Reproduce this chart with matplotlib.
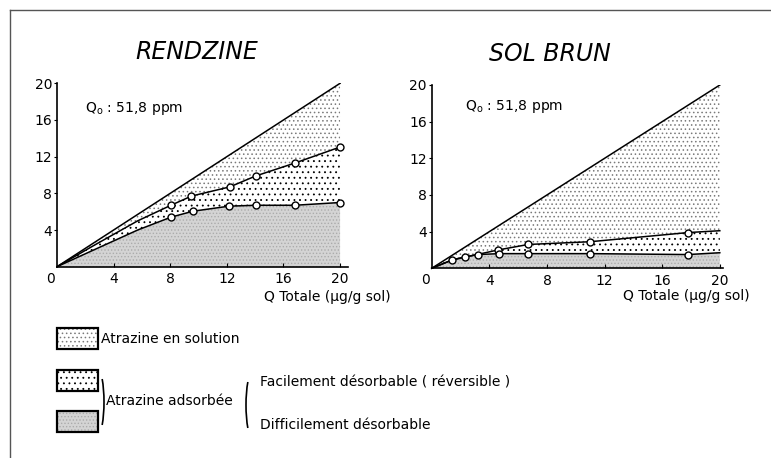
import matplotlib.pyplot as plt
import numpy as np
from matplotlib.patches import Rectangle, Arc

plt.rcParams['font.family'] = ['DejaVu Sans']
plt.rcParams['hatch.linewidth'] = 0.6

# ticks and the 1:1 line (Q totale)
x_ticks = [4, 8, 12, 16, 20]
y_ticks = [4, 8, 12, 16, 20]
diag_x = [0, 20]
diag_y = [0, 20]

# RENDZINE : total adsorbed (upper) and hardly desorbable (lower)
rend_up_x = [0, 2.7, 5.7, 8.05, 9.5, 12.2, 14.05, 16.8, 20.0]
rend_up_y = [0, 2.4, 5.0, 6.7, 7.7, 8.7, 9.9, 11.3, 13.05]
rend_up_mk = [False, False, False, True, True, True, True, True, True]
rend_lo_x = [0, 2.7, 5.7, 8.05, 9.6, 12.15, 14.05, 16.8, 20.0]
rend_lo_y = [0, 1.9, 4.0, 5.4, 6.05, 6.6, 6.7, 6.7, 7.0]
rend_lo_mk = [False, False, False, True, True, True, True, True, True]

# SOL BRUN
brun_up_x = [0, 1.4, 4.6, 6.7, 11.0, 17.8, 20.0]
brun_up_y = [0, 0.9, 2.0, 2.6, 2.9, 3.9, 4.1]
brun_up_mk = [False, False, True, True, True, True, False]
brun_lo_x = [0, 1.4, 2.3, 3.2, 4.7, 6.7, 11.0, 17.8, 20.0]
brun_lo_y = [0, 0.9, 1.25, 1.5, 1.6, 1.6, 1.6, 1.5, 1.7]
brun_lo_mk = [False, True, True, True, True, True, True, True, False]

titles = ['RENDZINE', 'SOL BRUN']
q0_text = 'Q$_{\\mathrm{o}}$ : 51,8 ppm'
x_label = 'Q Totale (µg/g sol)'
leg_solution = 'Atrazine en solution'
leg_adsorbee = 'Atrazine adsorbée'
leg_facile = 'Facilement désorbable ( réversible )'
leg_difficile = 'Difficilement désorbable'

# fill styles
SOL = dict(facecolor='white', edgecolor='#7a7a7a', hatch='....')
FAC = dict(facecolor='white', edgecolor='black', hatch='...')
DIF = dict(facecolor='#d4d4d4', edgecolor='#ababab', hatch='.....')

W, H = 771, 458
fig = plt.figure(figsize=(W / 100, H / 100), dpi=100)

# background overlay in pixel units: frame + legend
bg = fig.add_axes([0, 0, 1, 1])
bg.set_xlim(0, W)
bg.set_ylim(H, 0)
bg.axis('off')
bg.plot([9.5, 9.5], [H, 9.5], color='#555555', lw=1)
bg.plot([9.5, W], [9.5, 9.5], color='#555555', lw=1)


def panel(ax, up_x, up_y, up_mk, lo_x, lo_y, lo_mk, xmax, title, title_x, q0_xy, xlab_xy):
        ax.fill(np.r_[diag_x, up_x[::-1]], np.r_[diag_y, up_y[::-1]], lw=0, **SOL)
        ax.fill(np.r_[up_x, lo_x[::-1]], np.r_[up_y, lo_y[::-1]], lw=0, **FAC)
        ax.fill_between(lo_x, lo_y, 0, lw=0, **DIF)
        ax.plot(diag_x, diag_y, color='black', lw=1.1)
        for x, y, mk in [(up_x, up_y, up_mk), (lo_x, lo_y, lo_mk)]:
                ax.plot(x, y, color='black', lw=1.1, marker='o', markevery=mk,
                        ms=5, mfc='white', mec='black', mew=1, clip_on=False)

        ax.set_xlim(0, xmax)
        ax.set_ylim(0, 20)
        ax.patch.set_alpha(0)
        for s in ['top', 'right']:
                ax.spines[s].set_visible(False)
        for s in ['left', 'bottom']:
                ax.spines[s].set_linewidth(1.2)
        ax.set_xticks(x_ticks)
        ax.set_yticks(y_ticks)
        ax.tick_params(axis='x', direction='in', length=3, pad=4, labelsize=10)
        ax.tick_params(axis='y', direction='out', length=2.5, pad=1, labelsize=10)
        ax.annotate('0', xy=(0, 0), xytext=(-4.5, -8.5), textcoords='offset points',
                    ha='center', va='center', fontsize=10)

        ax.text(title_x, 1.17, title, transform=ax.transAxes, ha='center', va='center',
                fontsize=17, style='italic')
        ax.text(q0_xy[0], q0_xy[1], q0_text, transform=ax.transAxes, ha='left',
                va='center', fontsize=10)
        ax.text(xlab_xy[0], xlab_xy[1], x_label, transform=ax.transAxes, ha='right',
                va='center', fontsize=10)


ax_l = fig.add_axes([57 / W, 1 - 266.7 / H, 291 / W, 183.4 / H])
panel(ax_l, rend_up_x, rend_up_y, rend_up_mk, rend_lo_x, rend_lo_y, rend_lo_mk,
      20.56, titles[0], 0.48, (0.096, 0.865), (1.146, -0.165))

ax_r = fig.add_axes([431.7 / W, 1 - 268.3 / H, 291 / W, 183.3 / H])
panel(ax_r, brun_up_x, brun_up_y, brun_up_mk, brun_lo_x, brun_lo_y, brun_lo_mk,
      20.2, titles[1], 0.407, (0.114, 0.88), (1.094, -0.151))

# legend boxes
for (bx, by), style in [((57, 328), SOL), ((57, 370), FAC), ((57, 411), DIF)]:
        bg.add_patch(Rectangle((bx, by), 41, 21, lw=0, **style))
        bg.add_patch(Rectangle((bx, by), 41, 21, facecolor='none', edgecolor='black', lw=1.6))

bg.add_patch(Arc((96, 402), 16, 72, theta1=-75, theta2=75, color='black', lw=1.2))
bg.add_patch(Arc((254, 405), 16, 72, theta1=105, theta2=255, color='black', lw=1.2))

bg.text(101, 339, leg_solution, ha='left', va='center', fontsize=10)
bg.text(106, 401, leg_adsorbee, ha='left', va='center', fontsize=10)
bg.text(260, 383, leg_facile, ha='left', va='center', fontsize=10)
bg.text(260, 425, leg_difficile, ha='left', va='center', fontsize=10)

fig.savefig('out.png', dpi=100)
